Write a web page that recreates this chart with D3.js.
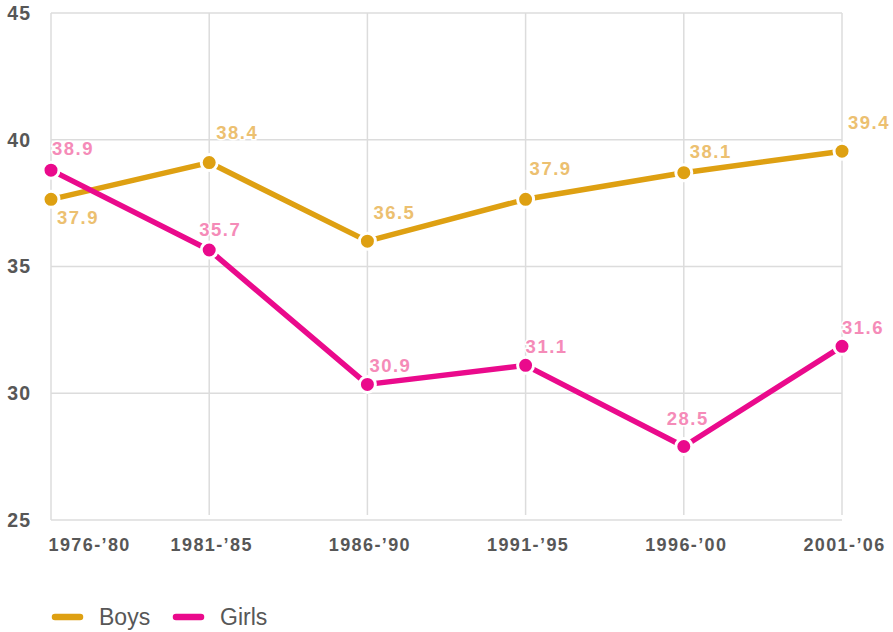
<!DOCTYPE html>
<html>
<head>
<meta charset="utf-8">
<script src="https://cdn.jsdelivr.net/npm/d3@7"></script>
<style>
  body { margin: 0; background: #fff; }
  svg { display: block; font-family: "Liberation Sans", Arial, Helvetica, sans-serif; }
</style>
</head>
<body>
<svg id="chart" width="893" height="632"></svg>
<script>
// Chart data
const periods = ["1976-\u201980", "1981-\u201985", "1986-\u201990", "1991-\u201995", "1996-\u201900", "2001-\u201906"];
const boysValues = [37.65, 39.1, 36.0, 37.65, 38.7, 39.55];
const girlsValues = [38.8, 35.65, 30.35, 31.1, 27.9, 31.85];
const boysLabels = ["37.9", "38.4", "36.5", "37.9", "38.1", "39.4"];
const girlsLabels = ["38.9", "35.7", "30.9", "31.1", "28.5", "31.6"];
const yTicks = [25, 30, 35, 40, 45];

// Label placement relative to each point (text start, baseline)
const boysLabelOffsets = [[6, 25], [7, -24], [6, -22], [4, -24], [6, -15], [6, -22]];
const girlsLabelOffsets = [[1, -15], [-10, -14], [2, -12], [0, -12], [-17, -21], [0, -12]];

const plot = { left: 51, right: 842, top: 13, bottom: 520 };
const textGray = '#575757';
const gridGray = '#dcdcdc';

const series = [
    { name: 'Boys', values: boysValues, labels: boysLabels, offsets: boysLabelOffsets, color: '#dea012', labelColor: '#ecc070' },
    { name: 'Girls', values: girlsValues, labels: girlsLabels, offsets: girlsLabelOffsets, color: '#ea0a8c', labelColor: '#f58bb8' }
];

const svg = d3.select('#chart');

const x = d3.scalePoint()
    .domain(periods)
    .range([plot.left, plot.right]);

const y = d3.scaleLinear()
    .domain([25, 45])
    .range([plot.bottom, plot.top]);

// Grid
const grid = svg.append('g').attr('class', 'grid');
grid.selectAll('line.h')
    .data(yTicks)
    .join('line')
    .attr('class', 'h')
    .attr('x1', plot.left)
    .attr('x2', plot.right)
    .attr('y1', d => y(d))
    .attr('y2', d => y(d))
    .attr('stroke', gridGray)
    .attr('stroke-width', 1.5);

grid.selectAll('line.v')
    .data(periods)
    .join('line')
    .attr('class', 'v')
    .attr('x1', d => x(d))
    .attr('x2', d => x(d))
    .attr('y1', plot.top)
    .attr('y2', (d, i) => i === 0 ? plot.bottom : plot.bottom - 5)
    .attr('stroke', gridGray)
    .attr('stroke-width', 1.5);

// Y axis labels
const yAxis = d3.axisLeft(y).tickValues(yTicks).tickSize(0).tickPadding(0);
const yAxisG = svg.append('g')
    .attr('transform', `translate(${plot.left - 20},0)`)
    .call(yAxis);
yAxisG.select('.domain').remove();
yAxisG.selectAll('text')
    .attr('fill', textGray)
    .attr('font-size', 19.5)
    .attr('font-weight', 'bold')
    .attr('letter-spacing', '1px')
    .attr('font-family', '"Liberation Sans", Arial, sans-serif');

// X axis labels
const xAxis = d3.axisBottom(x).tickSize(0).tickPadding(0);
const xAxisG = svg.append('g')
    .attr('transform', `translate(0,${plot.bottom + 18})`)
    .call(xAxis);
xAxisG.select('.domain').remove();
xAxisG.selectAll('text')
    .attr('fill', textGray)
    .attr('font-size', 18)
    .attr('font-weight', 'bold')
    .attr('letter-spacing', '1.4px')
    .attr('font-family', '"Liberation Sans", Arial, sans-serif')
    .attr('text-anchor', (d, i) => i === 0 ? 'start' : 'middle')
    .attr('dx', (d, i) => i === 0 ? -3 : 2);

// Lines
const line = d3.line()
    .x((d, i) => x(periods[i]))
    .y(d => y(d));

svg.append('g').selectAll('path')
    .data(series)
    .join('path')
    .attr('d', s => line(s.values))
    .attr('fill', 'none')
    .attr('stroke', s => s.color)
    .attr('stroke-width', 5.5)
    .attr('stroke-linejoin', 'round');

// Markers
series.forEach(s => {
    svg.append('g').selectAll('circle')
        .data(s.values)
        .join('circle')
        .attr('cx', (d, i) => x(periods[i]))
        .attr('cy', d => y(d))
        .attr('r', 8)
        .attr('fill', s.color)
        .attr('stroke', '#fff')
        .attr('stroke-width', 3);
});

// Value labels
series.forEach(s => {
    svg.append('g').selectAll('text')
        .data(s.values)
        .join('text')
        .attr('x', (d, i) => x(periods[i]) + s.offsets[i][0])
        .attr('y', (d, i) => y(d) + s.offsets[i][1])
        .attr('fill', s.labelColor)
        .attr('stroke', '#fff')
        .attr('stroke-width', 3)
        .attr('paint-order', 'stroke')
        .attr('font-size', 18.5)
        .attr('font-weight', 'bold')
        .attr('letter-spacing', '1.5px')
        .text((d, i) => s.labels[i]);
});

// Legend
const legend = svg.append('g').attr('transform', 'translate(52,617)');
const legendItem = legend.selectAll('g')
    .data(series)
    .join('g')
    .attr('transform', (d, i) => `translate(${i * 121},0)`);
legendItem.append('line')
    .attr('x1', 3)
    .attr('x2', 28)
    .attr('stroke', d => d.color)
    .attr('stroke-width', 6.5)
    .attr('stroke-linecap', 'round');
legendItem.append('text')
    .attr('x', 47)
    .attr('y', 7.5)
    .attr('fill', textGray)
    .attr('font-size', 23)
    .text(d => d.name);
</script>
</body>
</html>
